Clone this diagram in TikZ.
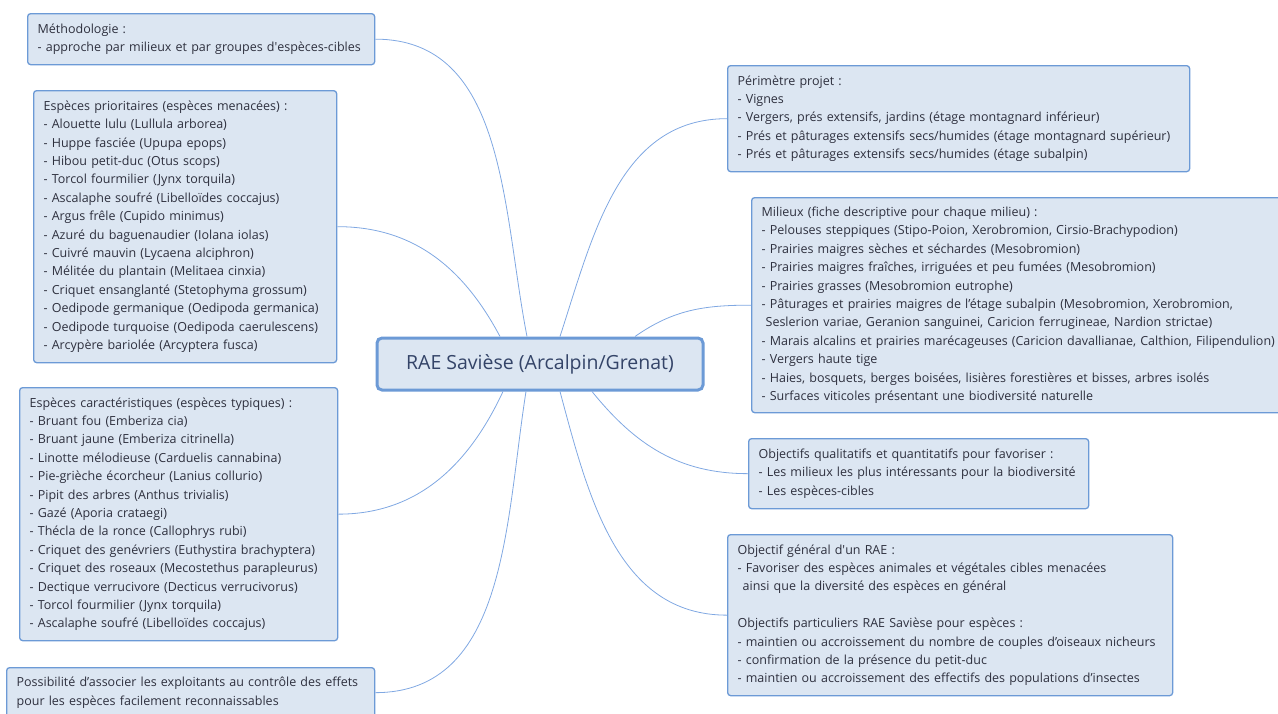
\documentclass[tikz,border=0pt]{standalone}
\usepackage{fontspec}
\setmainfont{Open Sans}
\definecolor{boxfill}{RGB}{220,230,242}
\definecolor{boxline}{RGB}{108,154,214}
\definecolor{linkcol}{RGB}{128,168,226}
\definecolor{txtcol}{RGB}{46,48,62}
\definecolor{maintxt}{RGB}{52,68,104}
\tikzset{
  box/.style={draw=boxline, fill=boxfill, rounded corners=3pt, line width=1.3pt,
    anchor=north west, align=left, inner xsep=10pt, inner ysep=0pt, text=txtcol,
    font=\fontsize{12.5}{18.4}\selectfont},
  mainbox/.style={draw=boxline, fill=boxfill, rounded corners=5pt, line width=3pt,
    minimum width=326pt, minimum height=52pt, text=maintxt,
    font=\fontsize{19.5}{22}\selectfont},
  link/.style={draw=linkcol, line width=0.8pt}
}
\begin{document}
\begin{tikzpicture}[x=1pt,y=1pt]
\useasboundingbox (0,0) rectangle (1278,-713);
\clip (0,0) rectangle (1278,-713);

\node[mainbox] (ctr) at (540,-364) {RAE Savièse (Arcalpin/Grenat)};

\node[box, text width=327pt, minimum height=51pt] (meth) at (27,-13)
  {Méthodologie :\\- approche par milieux et par groupes d\textquotesingle{}espèces-cibles};
\node[box, text width=283pt, minimum height=272pt] (prio) at (33,-90)
  {Espèces prioritaires (espèces menacées) :\\
   - Alouette lulu (Lullula arborea)\\
   - Huppe fasciée (Upupa epops)\\
   - Hibou petit-duc (Otus scops)\\
   - Torcol fourmilier (Jynx torquila)\\
   - Ascalaphe soufré (Libelloïdes coccajus)\\
   - Argus frêle (Cupido minimus)\\
   - Azuré du baguenaudier (Iolana iolas)\\
   - Cuivré mauvin (Lycaena alciphron)\\
   - Mélitée du plantain (Melitaea cinxia)\\
   - Criquet ensanglanté (Stetophyma grossum)\\
   - Oedipode germanique (Oedipoda germanica)\\
   - Oedipode turquoise (Oedipoda caerulescens)\\
   - Arcypère bariolée (Arcyptera fusca)};
\node[box, text width=298pt, minimum height=253pt] (cara) at (19,-387)
  {Espèces caractéristiques (espèces typiques) :\\
   - Bruant fou (Emberiza cia)\\
   - Bruant jaune (Emberiza citrinella)\\
   - Linotte mélodieuse (Carduelis cannabina)\\
   - Pie-grièche écorcheur (Lanius collurio)\\
   - Pipit des arbres (Anthus trivialis)\\
   - Gazé (Aporia crataegi)\\
   - Thécla de la ronce (Callophrys rubi)\\
   - Criquet des genévriers (Euthystira brachyptera)\\
   - Criquet des roseaux (Mecostethus parapleurus)\\
   - Dectique verrucivore (Decticus verrucivorus)\\
   - Torcol fourmilier (Jynx torquila)\\
   - Ascalaphe soufré (Libelloïdes coccajus)};
\node[box, text width=348pt, minimum height=50pt] (poss) at (6,-667)
  {Possibilité d’associer les exploitants au contrôle des effets\\
   pour les espèces facilement reconnaissables};

\node[box, text width=442pt, minimum height=106pt] (peri) at (727,-65)
  {Périmètre projet :\\
   - Vignes\\
   - Vergers, prés extensifs, jardins (étage montagnard inférieur)\\
   - Prés et pâturages extensifs secs/humides (étage montagnard supérieur)\\
   - Prés et pâturages extensifs secs/humides (étage subalpin)};
\node[box, text width=515pt, minimum height=215pt] (mil) at (751,-197)
  {Milieux (fiche descriptive pour chaque milieu) :\\
   - Pelouses steppiques (Stipo-Poion, Xerobromion, Cirsio-Brachypodion)\\
   - Prairies maigres sèches et séchardes (Mesobromion)\\
   - Prairies maigres fraîches, irriguées et peu fumées (Mesobromion)\\
   - Prairies grasses (Mesobromion eutrophe)\\
   - Pâturages et prairies maigres de l’étage subalpin (Mesobromion, Xerobromion,\\
   \hspace{4pt}Seslerion variae, Geranion sanguinei, Caricion ferrugineae, Nardion strictae)\\
   - Marais alcalins et prairies marécageuses (Caricion davallianae, Calthion, Filipendulion)\\
   - Vergers haute tige\\
   - Haies, bosquets, berges boisées, lisières forestières et bisses, arbres isolés\\
   - Surfaces viticoles présentant une biodiversité naturelle};
\node[box, text width=320pt, minimum height=70pt] (qual) at (748,-438)
  {Objectifs qualitatifs et quantitatifs pour favoriser :\\
   - Les milieux les plus intéressants pour la biodiversité\\
   - Les espèces-cibles};
\node[box, text width=425pt, minimum height=161pt] (gen) at (727,-534)
  {Objectif général d\textquotesingle{}un RAE :\\
   - Favoriser des espèces animales et végétales cibles menacées\\
   \hspace{5pt}ainsi que la diversité des espèces en général\\[18.4pt]
   Objectifs particuliers RAE Savièse pour espèces :\\
   - maintien ou accroissement du nombre de couples d’oiseaux nicheurs\\
   - confirmation de la présence du petit-duc\\
   - maintien ou accroissement des effectifs des populations d’insectes};

\draw[link] ([xshift=-13pt]ctr.north) to[out=101,in=0] (meth.east);
\draw[link] ([xshift=-40pt]ctr.north) to[out=118,in=0] (prio.east);
\draw[link] ([xshift=20pt]ctr.north) to[out=72,in=180] (peri.west);
\draw[link] ([xshift=95pt]ctr.north) to[out=35,in=180] (mil.west);
\draw[link] ([xshift=-37pt]ctr.south) to[out=-115,in=0] (cara.east);
\draw[link] ([xshift=-14pt]ctr.south) to[out=-99,in=0] (poss.east);
\draw[link] ([xshift=20pt]ctr.south) to[out=-75,in=180] (gen.west);
\draw[link] ([xshift=52pt]ctr.south) to[out=-51,in=180] (qual.west);
\end{tikzpicture}
\end{document}
